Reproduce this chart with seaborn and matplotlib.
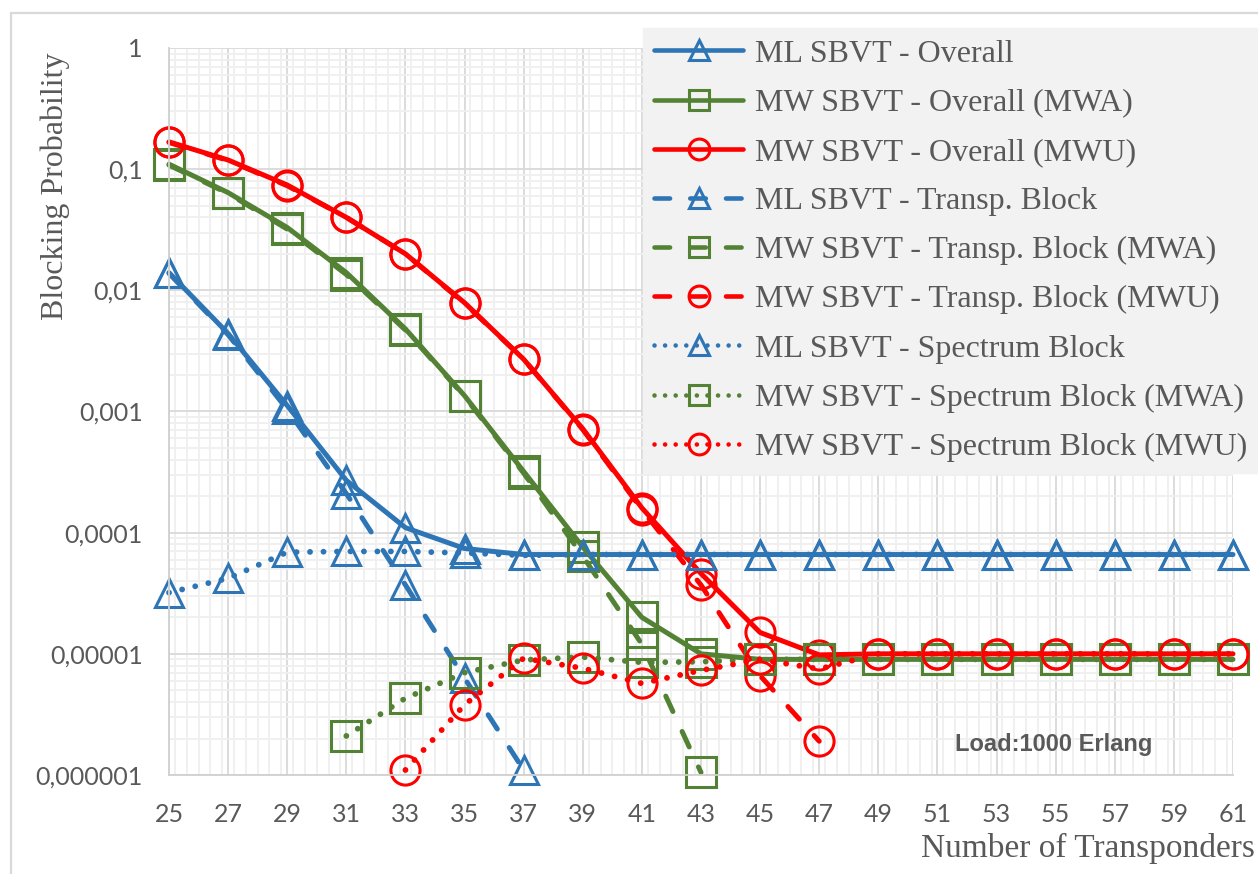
import matplotlib
matplotlib.use("Agg")
import matplotlib.pyplot as plt
import matplotlib.ticker as mticker
from matplotlib.patches import Rectangle
import seaborn as sns

# transponder counts
x_all = [25, 27, 29, 31, 33, 35, 37, 39, 41, 43, 45, 47, 49, 51, 53, 55, 57, 59, 61]

# ML SBVT
ml_overall = [0.014, 0.0044, 0.00112, 0.00027, 0.00011, 7.4e-5, 6.6e-5,
              6.6e-5, 6.6e-5, 6.6e-5, 6.6e-5, 6.6e-5, 6.6e-5, 6.6e-5, 6.6e-5,
              6.6e-5, 6.6e-5, 6.6e-5, 6.6e-5]
ml_transp_x = [25, 27, 29, 31, 33, 35, 37]
ml_transp = [0.0138, 0.0043, 0.00104, 0.00021, 3.7e-5, 6.3e-6, 1.1e-6]
ml_spectrum = [3.2e-5, 4.2e-5, 6.9e-5, 7.0e-5, 7.0e-5, 6.8e-5, 6.5e-5,
               6.6e-5, 6.6e-5, 6.6e-5, 6.6e-5, 6.6e-5, 6.6e-5, 6.6e-5, 6.6e-5,
               6.6e-5, 6.6e-5, 6.6e-5, 6.6e-5]

# MW SBVT (MWA)
mwa_overall = [0.11, 0.064, 0.033, 0.014, 0.0048, 0.00135, 3.2e-4, 7.6e-5,
               2.0e-5, 1.0e-5, 9e-6, 9e-6, 9e-6, 9e-6, 9e-6, 9e-6, 9e-6, 9e-6, 9e-6]
mwa_transp_x = [25, 27, 29, 31, 33, 35, 37, 39, 41, 43]
mwa_transp = [0.108, 0.063, 0.032, 0.0135, 0.0047, 0.00133, 3.1e-4, 6.4e-5, 1.2e-5, 1.05e-6]
mwa_spec_x = [31, 33, 35, 37, 39, 41, 43, 45, 47, 49, 51, 53, 55, 57, 59, 61]
mwa_spectrum = [2.1e-6, 4.3e-6, 7.0e-6, 8.9e-6, 9.4e-6, 8.5e-6, 8.6e-6, 9e-6,
                9e-6, 9e-6, 9e-6, 9e-6, 9e-6, 9e-6, 9e-6, 9e-6]

# MW SBVT (MWU)
mwu_overall = [0.168, 0.119, 0.074, 0.040, 0.020, 0.0079, 0.0027, 0.00072,
               1.6e-4, 4.6e-5, 1.5e-5, 9.8e-6, 1e-5, 1e-5, 1e-5, 1e-5, 1e-5, 1e-5, 1e-5]
mwu_transp_x = [25, 27, 29, 31, 33, 35, 37, 39, 41, 43, 45, 47]
mwu_transp = [0.166, 0.118, 0.073, 0.040, 0.020, 0.0078, 0.0027, 0.00071,
              1.55e-4, 3.7e-5, 6.6e-6, 1.9e-6]
mwu_spec_x = [33, 35, 37, 39, 41, 43, 45, 47, 49, 51, 53, 55, 57, 59, 61]
mwu_spectrum = [1.1e-6, 3.8e-6, 9.2e-6, 7.6e-6, 5.7e-6, 7.3e-6, 9e-6, 7.5e-6,
                1e-5, 1e-5, 1e-5, 1e-5, 1e-5, 1e-5, 1e-5]

y_ticks = [1, 0.1, 0.01, 0.001, 0.0001, 0.00001, 0.000001]
y_ticklabels = ["1", "0,1", "0,01", "0,001", "0,0001", "0,00001", "0,000001"]

BLUE, GREEN, RED = "#2E75B6", "#548235", "#FF0000"
GREY_TXT = "#595959"
SOLID = "-"
DASH = (0, (3.4, 4.4))
DOT = (0, (0.01, 2.3))

series = [
    ("ML SBVT - Overall", x_all, ml_overall, BLUE, "^", SOLID),
    ("MW SBVT - Overall (MWA)", x_all, mwa_overall, GREEN, "s", SOLID),
    ("MW SBVT - Overall (MWU)", x_all, mwu_overall, RED, "o", SOLID),
    ("ML SBVT - Transp. Block", ml_transp_x, ml_transp, BLUE, "^", DASH),
    ("MW SBVT - Transp. Block (MWA)", mwa_transp_x, mwa_transp, GREEN, "s", DASH),
    ("MW SBVT - Transp. Block (MWU)", mwu_transp_x, mwu_transp, RED, "o", DASH),
    ("ML SBVT - Spectrum Block", x_all, ml_spectrum, BLUE, "^", DOT),
    ("MW SBVT - Spectrum Block (MWA)", mwa_spec_x, mwa_spectrum, GREEN, "s", DOT),
    ("MW SBVT - Spectrum Block (MWU)", mwu_spec_x, mwu_spectrum, RED, "o", DOT),
]

sns.set_style("white")

W, H = 1258, 874
fig = plt.figure(figsize=(W / 100, H / 100), dpi=100)
ax = fig.add_axes([169 / W, 1 - 775 / H, (1233 - 169) / W, (775 - 48) / H])

# outer chart border
fig.patches.append(Rectangle((11 / W, -0.05), 1.2, 1 - 13 / H + 0.05, transform=fig.transFigure,
                             fill=False, edgecolor="#d9d9d9", linewidth=1.6, zorder=0))

for label, xs, ys, color, marker, ls in series:
    ms = 19.5 if marker == "^" else 21
    lw = 4.2 if ls == DOT else 3.6
    sns.lineplot(x=xs, y=ys, ax=ax, color=color, linestyle=ls, linewidth=lw,
                 marker=marker, markersize=ms, markerfacecolor="none",
                 markeredgecolor=color, markeredgewidth=2.2,
                 dash_capstyle="round", solid_capstyle="round", label=label,
                 estimator=None, sort=False, clip_on=False)

ax.set_yscale("log")
ax.set_ylim(1e-6, 1)
ax.set_xlim(25, 61)
ax.set_xticks(range(25, 62, 2))
ax.xaxis.set_minor_locator(mticker.MultipleLocator(0.4))
ax.set_yticks(y_ticks)
ax.set_yticklabels(y_ticklabels)
ax.yaxis.set_minor_locator(mticker.LogLocator(base=10, subs=range(2, 10), numticks=20))
ax.yaxis.set_minor_formatter(mticker.NullFormatter())

ax.grid(True, which="major", color="#d9d9d9", linewidth=1.3)
ax.grid(True, which="minor", color="#efefef", linewidth=1.3)
ax.set_axisbelow(True)
for side in ["top", "right"]:
    ax.spines[side].set_visible(False)
for side in ["left", "bottom"]:
    ax.spines[side].set_color("#d0d0d0")
    ax.spines[side].set_linewidth(1.3)

ax.tick_params(which="both", length=0)
ax.tick_params(axis="x", pad=20, labelsize=18, labelcolor=GREY_TXT)
ax.tick_params(axis="y", pad=19, labelsize=18, labelcolor=GREY_TXT)
for t in ax.get_xticklabels() + ax.get_yticklabels():
    t.set_family("Lato")
ax.set_xlabel("")
ax.set_ylabel("")

fig.text(55 / W, 1 - 186 / H, "Blocking Probability", rotation=90, ha="center", va="center",
         family="Liberation Serif", fontsize=23, color=GREY_TXT)
fig.text(1255 / W, 1 - 848 / H, "Number of Transponders", ha="right", va="center",
         family="Liberation Serif", fontsize=24, color=GREY_TXT)
fig.text(1054 / W, 1 - 745 / H, "Load:1000 Erlang", ha="center", va="center",
         family="Liberation Sans", fontweight="bold", fontsize=17, color=GREY_TXT)

leg = ax.legend(loc="upper right", bbox_to_anchor=(1.0, 1 - 28 / H), bbox_transform=fig.transFigure,
                prop={"family": "Liberation Serif", "size": 23}, frameon=True, fancybox=False,
                facecolor="#f2f2f2", edgecolor="#f2f2f2", framealpha=1, borderaxespad=0,
                handlelength=2.8, handletextpad=0.35, labelspacing=0.62, borderpad=0.35)
leg.set_zorder(10)
for t in leg.get_texts():
    t.set_color(GREY_TXT)
for h in leg.legend_handles:
    h.set_markersize(15)
    h.set_linewidth(3.3)

fig.savefig("out.png", dpi=100)
